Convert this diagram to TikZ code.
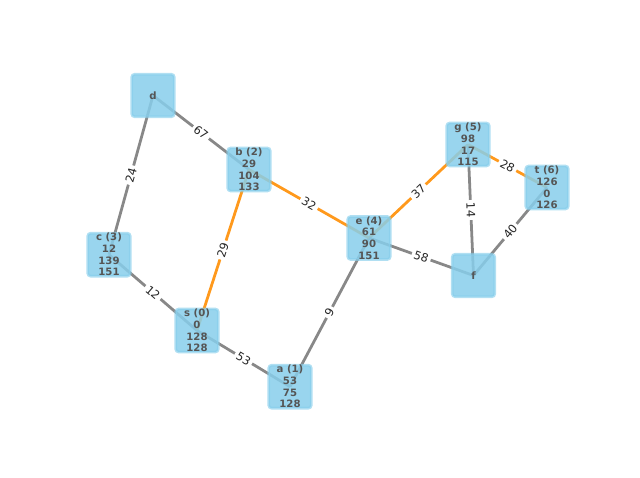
\documentclass[tikz,border=0pt]{standalone}
\usepackage{fontspec}
\setmainfont{DejaVu Sans}
\usetikzlibrary{backgrounds}
\definecolor{boxblue}{RGB}{135,206,235}
\definecolor{txtgray}{RGB}{85,85,85}
\definecolor{edgegray}{RGB}{136,136,136}
\definecolor{pathorange}{RGB}{255,153,28}

\begin{document}
\begin{tikzpicture}[x=0.72pt,y=-0.72pt,
  vertex/.style={rectangle,rounded corners=2pt,minimum size=30.5pt,inner sep=0pt,
    fill=boxblue,fill opacity=0.85,draw=boxblue,draw opacity=0.65,line width=2pt,
    text opacity=1,text=txtgray,align=center,
    font=\fontsize{7.3}{8.4}\selectfont\bfseries},
  link/.style={edgegray,line width=2pt},
  best/.style={pathorange,line width=2pt},
  wt/.style={sloped,fill=white,inner sep=1.8pt,text=black!85,font=\fontsize{8.3}{9}\selectfont}]
\useasboundingbox (0,0) rectangle (640,478);
\node[vertex] (d) at (153,95.5) {d};
\node[vertex] (b) at (249,169.5) {b (2)\\29\\104\\133};
\node[vertex] (c) at (109,254.7) {c (3)\\12\\139\\151};
\node[vertex] (s) at (197,330.5) {s (0)\\0\\128\\128};
\node[vertex] (a) at (290,386.7) {a (1)\\53\\75\\128};
\node[vertex] (e) at (369,238) {e (4)\\61\\90\\151};
\node[vertex] (g) at (468,144.5) {g (5)\\98\\17\\115};
\node[vertex] (t) at (547,187.5) {t (6)\\126\\0\\126};
\node[vertex] (f) at (473.5,275.5) {f};
\begin{scope}[on background layer]
\draw[link] (d.center) -- node[wt]{67} (b.center);
\draw[link] (d.center) -- node[wt]{24} (c.center);
\draw[link] (c.center) -- node[wt]{12} (s.center);
\draw[best] (s.center) -- node[wt]{29} (b.center);
\draw[link] (s.center) -- node[wt]{53} (a.center);
\draw[link] (a.center) -- node[wt]{9} (e.center);
\draw[best] (b.center) -- node[wt]{32} (e.center);
\draw[best] (e.center) -- node[wt]{37} (g.center);
\draw[link] (e.center) -- node[wt]{58} (f.center);
\draw[link] (g.center) -- node[wt]{14} (f.center);
\draw[best] (g.center) -- node[wt]{28} (t.center);
\draw[link] (t.center) -- node[wt]{40} (f.center);
\end{scope}
\end{tikzpicture}
\end{document}
